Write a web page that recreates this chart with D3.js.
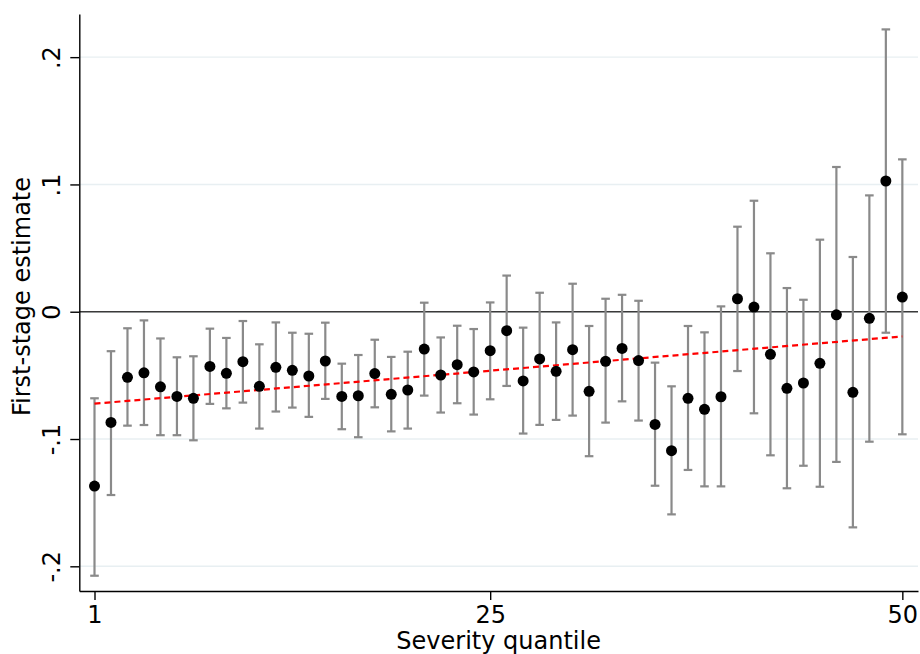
<!DOCTYPE html>
<html>
<head>
<meta charset="utf-8">
<script src="https://cdn.jsdelivr.net/npm/d3@7/dist/d3.min.js"></script>
<style>
  html, body { margin: 0; padding: 0; background: #fff; }
  svg { display: block; }
  text { font-family: "DejaVu Sans", sans-serif; fill: #000; }
</style>
</head>
<body>
<svg id="chart" width="920" height="654"></svg>
<script>
// Severity quantiles 1..50
const quantiles = d3.range(1, 51);

// First-stage point estimates per quantile
const estimates = [
  -0.137, -0.087, -0.0515, -0.048, -0.059, -0.0665, -0.068, -0.043, -0.0484, -0.0392,
  -0.0586, -0.0437, -0.046, -0.0505, -0.0387, -0.0665, -0.066, -0.0486, -0.0649, -0.0615,
  -0.0293, -0.0497, -0.0416, -0.0473, -0.0306, -0.0149, -0.0544, -0.0371, -0.0468, -0.0298,
  -0.0625, -0.039, -0.0288, -0.0384, -0.0885, -0.1092, -0.068, -0.0767, -0.0668, 0.0102,
  0.0037, -0.0335, -0.0602, -0.056, -0.0405, -0.0024, -0.0633, -0.0052, 0.1027, 0.0115
];

// Lower confidence bounds
const ciLow = [
  -0.2074, -0.144, -0.0895, -0.089, -0.097, -0.097, -0.101, -0.0724, -0.0759, -0.0714,
  -0.0918, -0.0784, -0.0753, -0.0826, -0.0685, -0.0923, -0.0986, -0.0751, -0.094, -0.0918,
  -0.0659, -0.0792, -0.0719, -0.0808, -0.0688, -0.0583, -0.0957, -0.0889, -0.085, -0.0816,
  -0.1135, -0.0871, -0.0704, -0.0855, -0.1367, -0.1592, -0.1243, -0.1372, -0.1372, -0.0466,
  -0.0798, -0.1128, -0.1387, -0.121, -0.1375, -0.118, -0.1694, -0.1021, -0.0165, -0.0963
];

// Upper confidence bounds
const ciHigh = [
  -0.068, -0.031, -0.013, -0.0068, -0.021, -0.0358, -0.035, -0.0133, -0.0206, -0.0073,
  -0.0256, -0.0084, -0.0165, -0.0173, -0.0086, -0.0408, -0.034, -0.022, -0.0355, -0.0314,
  0.0071, -0.0202, -0.011, -0.0136, 0.0073, 0.0284, -0.0125, 0.0149, -0.0084, 0.022,
  -0.0112, 0.0102, 0.0133, 0.0086, -0.040, -0.0586, -0.0112, -0.0162, 0.0042, 0.0668,
  0.0872, 0.0459, 0.0186, 0.0094, 0.0566, 0.1137, 0.043, 0.0914, 0.2218, 0.1197
];

// Linear fit endpoints (quantile, fitted value)
const fitQuantiles = [1, 50];
const fitValues = [-0.0722, -0.0194];

// Axis ticks and labels
const xTicks = [1, 25, 50];
const yTicks = [0.2, 0.1, 0, -0.1, -0.2];
const yTickLabels = [".2", ".1", "0", "-.1", "-.2"];

const svg = d3.select("#chart");

const x = d3.scaleLinear().domain([0.078, 50.95]).range([79.3, 918]);
const y = d3.scaleLinear().domain([-0.2194, 0.2339]).range([591, 14]);

// Horizontal grid lines
svg.append("g")
  .selectAll("line")
  .data(yTicks)
  .join("line")
  .attr("x1", x.range()[0]).attr("x2", x.range()[1])
  .attr("y1", d => y(d)).attr("y2", d => y(d))
  .attr("stroke", "#e8eff2")
  .attr("stroke-width", 1.4);

// Reference line at zero
svg.append("line")
  .attr("x1", x.range()[0]).attr("x2", x.range()[1])
  .attr("y1", y(0)).attr("y2", y(0))
  .attr("stroke", "#3a3a3a")
  .attr("stroke-width", 1.4);

// Confidence intervals
const rows = quantiles.map((q, i) => ({ q, est: estimates[i], lo: ciLow[i], hi: ciHigh[i] }));
const bars = svg.append("g")
  .attr("stroke", "#8a8a8a")
  .attr("stroke-width", 2.2)
  .attr("fill", "none");

bars.selectAll("line.stem")
  .data(rows).join("line").attr("class", "stem")
  .attr("x1", d => x(d.q)).attr("x2", d => x(d.q))
  .attr("y1", d => y(d.lo)).attr("y2", d => y(d.hi));

const capHalf = 4.3;
bars.selectAll("line.capHi")
  .data(rows).join("line").attr("class", "capHi")
  .attr("x1", d => x(d.q) - capHalf).attr("x2", d => x(d.q) + capHalf)
  .attr("y1", d => y(d.hi)).attr("y2", d => y(d.hi));
bars.selectAll("line.capLo")
  .data(rows).join("line").attr("class", "capLo")
  .attr("x1", d => x(d.q) - capHalf).attr("x2", d => x(d.q) + capHalf)
  .attr("y1", d => y(d.lo)).attr("y2", d => y(d.lo));

// Fitted trend
svg.append("path")
  .datum(fitQuantiles.map((q, i) => [q, fitValues[i]]))
  .attr("fill", "none")
  .attr("stroke", "#ff0000")
  .attr("stroke-width", 2.2)
  .attr("stroke-dasharray", "6,4")
  .attr("d", d3.line().x(d => x(d[0])).y(d => y(d[1])));

// Point estimates
svg.append("g")
  .selectAll("circle")
  .data(rows).join("circle")
  .attr("cx", d => x(d.q)).attr("cy", d => y(d.est))
  .attr("r", 5.5)
  .attr("fill", "#000");

// Axes
const xAxis = d3.axisBottom(x)
  .tickValues(xTicks)
  .tickFormat(d3.format("d"))
  .tickSize(9).tickSizeOuter(0).tickPadding(4);
const gx = svg.append("g").attr("transform", `translate(0,${y.range()[0]})`).call(xAxis);
gx.select(".domain").attr("stroke", "#000").attr("stroke-width", 1.4);
gx.selectAll(".tick line").attr("stroke", "#000").attr("stroke-width", 1.4);
gx.selectAll(".tick text")
  .attr("font-size", 24).attr("dy", null).attr("y", 32)
  .style("font-family", "DejaVu Sans");

const yAxis = d3.axisLeft(y)
  .tickValues(yTicks)
  .tickFormat((d, i) => yTickLabels[i])
  .tickSize(9).tickSizeOuter(0);
const gy = svg.append("g").attr("transform", `translate(${x.range()[0]},0)`).call(yAxis);
gy.select(".domain").attr("stroke", "#000").attr("stroke-width", 1.4);
gy.selectAll(".tick line").attr("stroke", "#000").attr("stroke-width", 1.4);
gy.selectAll(".tick text")
  .attr("font-size", 24)
  .attr("x", 0).attr("y", -19.5).attr("dy", null)
  .attr("text-anchor", "middle")
  .attr("transform", "rotate(-90)")
  .style("font-family", "DejaVu Sans");

// Axis titles
svg.append("text")
  .attr("x", (x.range()[0] + x.range()[1]) / 2)
  .attr("y", 649)
  .attr("text-anchor", "middle")
  .attr("font-size", 24)
  .text("Severity quantile");

svg.append("text")
  .attr("transform", `translate(30,${(y.range()[0] + y.range()[1]) / 2 - 6}) rotate(-90)`)
  .attr("text-anchor", "middle")
  .attr("font-size", 24)
  .text("First-stage estimate");
</script>
</body>
</html>
